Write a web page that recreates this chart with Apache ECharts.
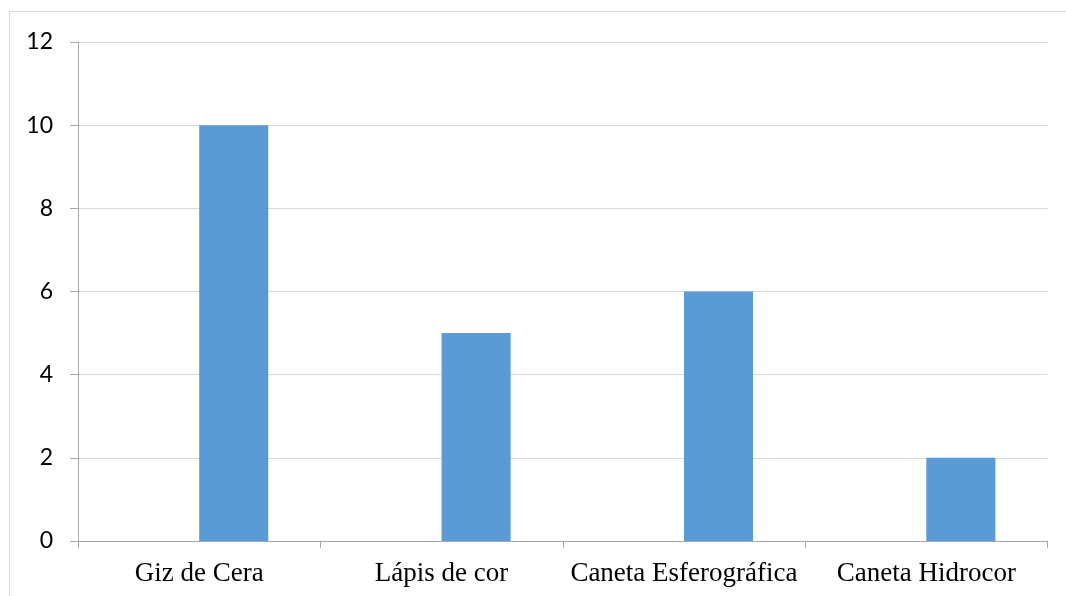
<!DOCTYPE html>
<html>
<head>
<meta charset="utf-8">
<script src="https://cdn.jsdelivr.net/npm/echarts@6/dist/echarts.min.js"></script>
<style>
  html, body { margin: 0; padding: 0; background: #ffffff; }
  #chart { width: 1066px; height: 596px; }
</style>
</head>
<body>
<div id="chart"></div>
<script>
// Categories along the x axis
const categories = ['Giz de Cera', 'Lápis de cor', 'Caneta Esferográfica', 'Caneta Hidrocor'];
// First series of the cluster has no values (left slot stays empty)
const seriesEmpty = [null, null, null, null];
// Quantity per material
const seriesValues = [10, 5, 6, 2];
// Y axis range and step
const yMin = 0;
const yMax = 12;
const yStep = 2;

const chart = echarts.init(document.getElementById('chart'), null, { renderer: 'canvas' });

const axisGray = '#A6A6A6';
const gridGray = '#D9D9D9';

chart.setOption({
  animation: false,
  backgroundColor: '#ffffff',
  graphic: [{
    type: 'rect',
    shape: { x: 9.5, y: 11.5, width: 1100, height: 620 },
    style: { fill: 'none', stroke: '#D9D9D9', lineWidth: 1 },
    silent: true,
    z: -1
  }],
  grid: { left: 78, right: 18.5, top: 42, bottom: 55, containLabel: false },
  xAxis: {
    type: 'category',
    data: categories,
    boundaryGap: true,
    axisLine: { show: true, lineStyle: { color: axisGray, width: 1 } },
    axisTick: { show: true, alignWithLabel: false, length: 7, lineStyle: { color: axisGray } },
    axisLabel: {
      interval: 0,
      margin: 19,
      fontFamily: '"Liberation Serif", "Times New Roman", serif',
      fontSize: 27,
      color: '#000000'
    },
    splitLine: { show: false }
  },
  yAxis: {
    type: 'value',
    min: yMin,
    max: yMax,
    interval: yStep,
    axisLine: { show: true, lineStyle: { color: axisGray, width: 1 } },
    axisTick: { show: true, length: 8, lineStyle: { color: axisGray } },
    axisLabel: {
      margin: 25,
      fontFamily: 'Lato, "Open Sans", sans-serif',
      fontSize: 23,
      color: '#000000'
    },
    splitLine: { show: true, lineStyle: { color: gridGray, width: 1 } }
  },
  series: [
    {
      name: 'Série 1',
      type: 'bar',
      data: seriesEmpty,
      barGap: '0%',
      barCategoryGap: '43%',
      itemStyle: { color: '#ED7D31' }
    },
    {
      name: 'Série 2',
      type: 'bar',
      data: seriesValues,
      barGap: '0%',
      barCategoryGap: '43%',
      itemStyle: { color: '#5B9BD5' }
    }
  ]
});
</script>
</body>
</html>
